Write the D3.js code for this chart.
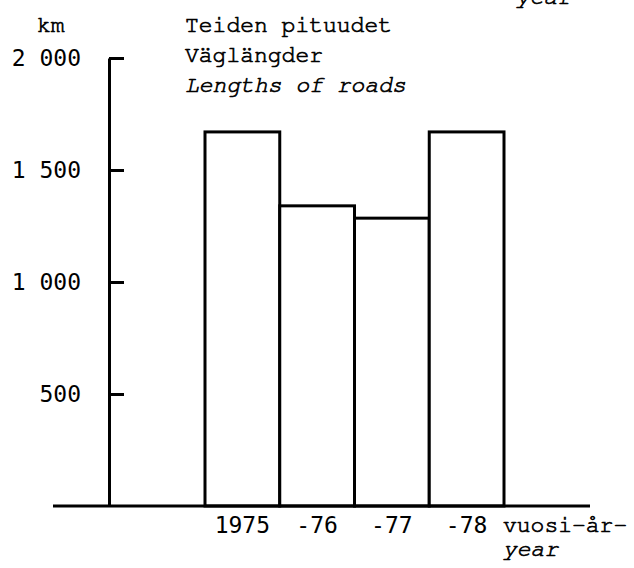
<!DOCTYPE html>
<meta charset="utf-8">
<style>
body { margin:0; background-color:white; }
.mono { font-family:"FreeMono", "Courier New", monospace; font-size:23px; fill:black; stroke:black; stroke-width:0.7px; }
.num { font-family:"DejaVu Sans Mono", monospace; font-size:23px; fill:black; }
</style>
<script src="https://cdn.jsdelivr.net/npm/d3@7"></script>
<div id="chart"></div>
<script>

// road lengths (km) per year
var years = ["1975", "-76", "-77", "-78"];
var lengths = [1670, 1340, 1285, 1670];
var yTicks = [500, 1000, 1500, 2000];
var titleLines = ["Teiden pituudet", "Väglängder", "Lengths of roads"];

var width = 634, height = 568;

var svg = d3.select("#chart")
  .append("svg")
    .attr("width", width)
    .attr("height", height);

var x = d3.scaleBand()
  .domain(years)
  .range([205, 504])
  .padding(0);

var y = d3.scaleLinear()
  .domain([0, 2000])
  .range([506, 58]);

var fmt = d3.formatLocale({decimal: ",", thousands: " ", grouping: [3], currency: ["", ""]}).format(",d");

// bars, drawn as open boxes
svg.selectAll("rect.bar")
  .data(lengths)
  .enter()
  .append("rect")
    .attr("class", "bar")
    .attr("x", function(d, i) { return x(years[i]); })
    .attr("y", function(d) { return y(d); })
    .attr("width", x.bandwidth())
    .attr("height", function(d) { return y(0) - y(d); })
    .attr("fill", "white")
    .attr("stroke", "black")
    .attr("stroke-width", 3);

// y axis line with short ticks to the right
var yAxis = svg.append("g")
  .attr("transform", "translate(109,0)")
  .call(d3.axisRight(y).tickValues(yTicks).tickSize(15).tickSizeOuter(0).tickFormat(""));
yAxis.select(".domain").attr("stroke-width", 3);
yAxis.selectAll(".tick line").attr("stroke-width", 3);

// tick labels on the left
svg.selectAll("text.ylab")
  .data(yTicks)
  .enter()
  .append("text")
    .attr("class", "num")
    .attr("x", 81)
    .attr("y", function(d) { return y(d); })
    .attr("dy", "0.36em")
    .attr("text-anchor", "end")
    .text(function(d) { return fmt(d); });

// baseline
svg.append("line")
  .attr("x1", 53).attr("x2", 590)
  .attr("y1", y(0)).attr("y2", y(0))
  .attr("stroke", "black")
  .attr("stroke-width", 3);

// year labels
svg.selectAll("text.xlab")
  .data(years)
  .enter()
  .append("text")
    .attr("class", "num")
    .attr("x", function(d) { return x(d) + x.bandwidth() / 2; })
    .attr("y", 533)
    .attr("text-anchor", "middle")
    .text(function(d) { return d; });

svg.append("text").attr("class", "mono").attr("x", 503).attr("y", 532).text("vuosi-år-");
svg.append("text").attr("class", "mono").attr("x", 503).attr("y", 556)
  .style("font-style", "italic").text("year");
// cut-off label at the top edge
svg.append("text").attr("class", "mono").attr("x", 516).attr("y", 4)
  .style("font-style", "italic").text("year");

// unit and title
svg.append("text").attr("class", "mono").attr("x", 37).attr("y", 32).text("km");
svg.selectAll("text.title")
  .data(titleLines)
  .enter()
  .append("text")
    .attr("class", "mono")
    .attr("x", 185)
    .attr("y", function(d, i) { return 32 + i * 30; })
    .style("font-style", function(d, i) { return i == 2 ? "italic" : "normal"; })
    .text(function(d) { return d; });

</script>
